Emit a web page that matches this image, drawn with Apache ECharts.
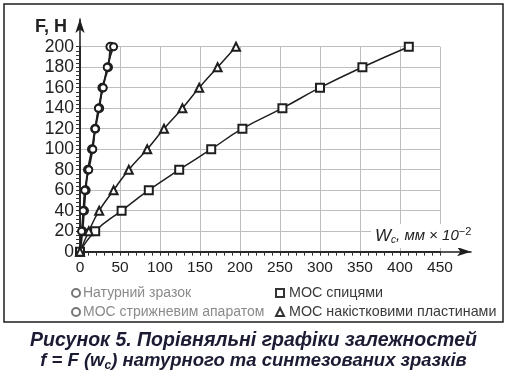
<!DOCTYPE html>
<html>
<head>
<meta charset="utf-8">
<script src="https://cdn.jsdelivr.net/npm/echarts@6/dist/echarts.min.js"></script>
<style>
  html, body { margin: 0; padding: 0; background: #fff; }
  #chart { width: 507px; height: 378px; }
</style>
</head>
<body>
<div id="chart"></div>
<script>
// W_c (мм x 10^-2) vs F (H)
var naturnyi = [[0, 0], [3, 20], [5, 40], [7, 60], [10, 80], [15, 100], [19, 120], [24, 140], [28, 160], [35, 180], [38, 200]];
var stryzhnevyi = [[0, 0], [2, 20], [4, 40], [6, 60], [11, 80], [16, 100], [19, 120], [23, 140], [29, 160], [34, 180], [42, 200]];
var spytsi = [[0, 0], [19, 20], [52, 40], [86, 60], [124, 80], [164, 100], [203, 120], [253, 140], [300, 160], [353, 180], [411, 200]];
var plastyny = [[0, 0], [11, 20], [24, 40], [42, 60], [61, 80], [84, 100], [105, 120], [128, 140], [149, 160], [172, 180], [195, 200]];

var seriesNames = ['Натурний зразок', 'МОС стрижневим апаратом', 'МОС спицями', 'МОС накістковими пластинами'];

var chartObj = echarts.init(document.getElementById('chart'));

function lineSeries(name, data, symbol, size, width) {
  return {
    name: name,
    type: 'line',
    data: data,
    smooth: true,
    symbol: symbol,
    symbolSize: size,
    showSymbol: true,
    lineStyle: { color: '#1e1e1e', width: width },
    itemStyle: { color: '#1e1e1e', borderWidth: 1.2 },
    z: 3
  };
}

var option = {
  animation: false,
  grid: [
    { left: 80, right: 67, top: 46.7, bottom: 126.3 },
    // only for the arrow axes
    { left: 80, right: 36, top: 19, bottom: 126.3 }
  ],
  xAxis: [{
    type: 'value',
    gridIndex: 0,
    min: 0,
    max: 450,
    interval: 50,
    axisLine: { show: true, lineStyle: { color: '#1e1e1e', width: 1.5 } },
    axisTick: { show: true, inside: false, length: 4, lineStyle: { color: '#333' } },
    minorTick: { show: true, splitNumber: 5, length: 4, lineStyle: { color: '#333' } },
    axisLabel: { color: '#222', fontSize: 15.5, fontFamily: 'Liberation Sans', margin: 8 },
    splitLine: { show: true, lineStyle: { color: '#bdbdbd', width: 1 } }
  }, {
    type: 'value',
    gridIndex: 1,
    min: 0,
    max: 1,
    axisLine: { show: true, symbol: ['none', 'arrow'], symbolSize: [7, 14], lineStyle: { color: '#1e1e1e', width: 1.5 } },
    axisTick: { show: false },
    axisLabel: { show: false },
    splitLine: { show: false }
  }],
  yAxis: [{
    type: 'value',
    gridIndex: 0,
    min: 0,
    max: 200,
    interval: 20,
    axisLine: { show: true, lineStyle: { color: '#1e1e1e', width: 1.5 } },
    axisTick: { show: true, length: 4, lineStyle: { color: '#333' } },
    minorTick: { show: true, splitNumber: 5, length: 4, lineStyle: { color: '#333' } },
    axisLabel: { color: '#222', fontSize: 17.5, fontFamily: 'Liberation Sans', margin: 6 },
    splitLine: { show: true, lineStyle: { color: '#bdbdbd', width: 1 } }
  }, {
    type: 'value',
    gridIndex: 1,
    min: 0,
    max: 1,
    axisLine: { show: true, symbol: ['none', 'arrow'], symbolSize: [7, 14], lineStyle: { color: '#1e1e1e', width: 1.5 } },
    axisTick: { show: false },
    axisLabel: { show: false },
    splitLine: { show: false }
  }],
  legend: [{
    orient: 'vertical',
    left: 66,
    top: 281,
    itemWidth: 8,
    itemHeight: 8,
    itemGap: 5,
    textStyle: { color: '#8a8a8a', fontSize: 14, fontFamily: 'Liberation Sans', padding: [0, 0, 0, -2] },
    data: [
      { name: seriesNames[0], icon: 'emptyCircle', itemStyle: { color: '#777', borderWidth: 1 } },
      { name: seriesNames[1], icon: 'emptyCircle', itemStyle: { color: '#777', borderWidth: 1 } }
    ]
  }, {
    orient: 'vertical',
    left: 270,
    top: 281,
    itemWidth: 8,
    itemHeight: 8,
    itemGap: 5,
    textStyle: { color: '#3a3a3a', fontSize: 14.3, fontFamily: 'Liberation Sans' },
    data: [
      { name: seriesNames[2], icon: 'emptyRect', itemStyle: { color: '#333', borderWidth: 1 } },
      { name: seriesNames[3], icon: 'emptyTriangle', itemStyle: { color: '#333', borderWidth: 1 } }
    ]
  }],
  title: {
    left: 'center',
    top: 326,
    text: 'Рисунок 5. Порівняльні графіки залежностей\n{a|f = F (w}{s|c}{a|) натурного та синтезованих зразків}',
    textStyle: {
      color: '#1b1b33',
      fontSize: 19.5,
      fontWeight: 'bold',
      fontStyle: 'italic',
      fontFamily: 'Liberation Sans',
      lineHeight: 20,
      align: 'center',
      rich: {
        a: { color: '#1b1b33', fontSize: 18.5, fontWeight: 'bold', fontStyle: 'italic', fontFamily: 'Liberation Sans', lineHeight: 20 },
        s: { color: '#1b1b33', fontSize: 12, fontWeight: 'bold', fontStyle: 'italic', fontFamily: 'Liberation Sans', lineHeight: 20, padding: [10, 0, 0, 0] }
      }
    }
  },
  graphic: [{
    type: 'rect',
    shape: { x: 4, y: 4, width: 499, height: 318 },
    style: { fill: 'none', stroke: '#1e1e1e', lineWidth: 1.5 },
    z: 100
  }, {
    type: 'text',
    left: 35,
    top: 18,
    style: { text: 'F, H', fill: '#222', font: 'bold 18px "Liberation Sans"' },
    z: 100
  }, {
    type: 'text',
    left: 371,
    top: 224,
    style: {
      text: '{w|W}{c|c}{n|, мм × 10}{e|−2}',
      backgroundColor: '#fff',
      padding: [2, 4, 2, 4],
      rich: {
        w: { fontSize: 17, fontStyle: 'italic', fontFamily: 'Liberation Sans', fill: '#222' },
        c: { fontSize: 10, fontStyle: 'italic', fontFamily: 'Liberation Sans', fill: '#222', padding: [9, 0, 0, 0] },
        n: { fontSize: 15, fontStyle: 'italic', fontFamily: 'Liberation Sans', fill: '#222' },
        e: { fontSize: 11, fontFamily: 'Liberation Sans', fill: '#222', padding: [0, 0, 9, 0] }
      }
    },
    z: 100
  }],
  series: [
    lineSeries(seriesNames[0], naturnyi, 'emptyCircle', 8, 2),
    lineSeries(seriesNames[1], stryzhnevyi, 'emptyCircle', 7, 1.5),
    lineSeries(seriesNames[2], spytsi, 'emptyRect', 8, 1.5),
    lineSeries(seriesNames[3], plastyny, 'emptyTriangle', 8, 1.5)
  ]
};

chartObj.setOption(option);
</script>
</body>
</html>
